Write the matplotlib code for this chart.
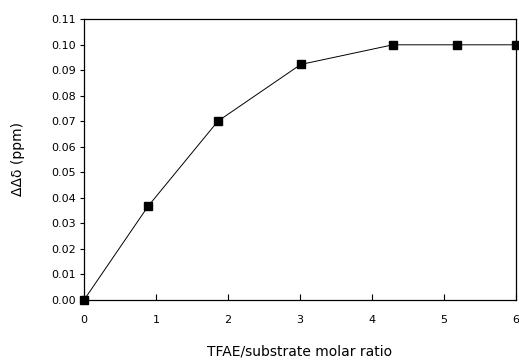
import matplotlib
matplotlib.use("Agg")
import matplotlib.pyplot as plt

ratio = [0.0, 0.89, 1.86, 3.01, 4.29, 5.18, 6.0]
dd = [0.0, 0.0367, 0.0700, 0.0922, 0.0999, 0.0999, 0.0999]
xticks = [0, 1, 2, 3, 4, 5, 6]
yticks = [i / 100 for i in range(12)]

plt.rcParams['font.family'] = ['DejaVu Sans']

fig = plt.figure(figsize=(5.19, 3.63), dpi=100)
ax = fig.add_axes([84 / 519, 1 - 300 / 363, 432 / 519, 281 / 363])
ax.plot(ratio, dd, color='black', lw=0.7, marker='s', markersize=6,
        markerfacecolor='black', markeredgecolor='black', clip_on=False, zorder=3)
ax.set_xlim(0, 6)
ax.set_ylim(0, 0.11)
ax.set_xticks(xticks)
ax.set_xticklabels([str(t) for t in xticks])
ax.set_yticks(yticks)
ax.set_yticklabels([f"{t:.2f}" for t in yticks])
ax.tick_params(axis='x', direction='in', length=4, width=0.8, labelsize=8, pad=11)
ax.tick_params(axis='y', direction='out', length=3, width=0.8, labelsize=8, pad=3)
for s in ax.spines.values():
    s.set_linewidth(0.9)
ax.set_xlabel("TFAE/substrate molar ratio", fontsize=10, labelpad=14)
ax.set_ylabel("ΔΔδ (ppm)", fontsize=10, labelpad=19)
fig.savefig("out.png", dpi=100)
